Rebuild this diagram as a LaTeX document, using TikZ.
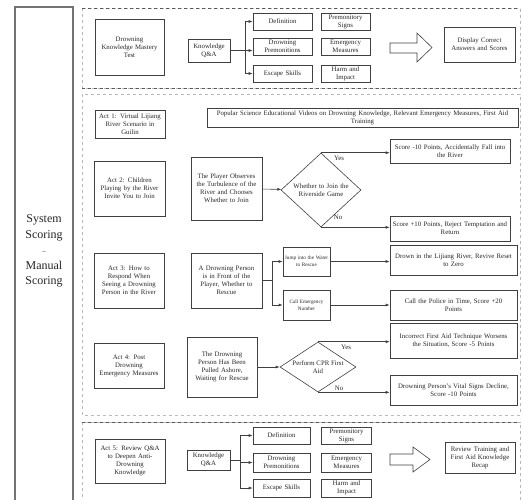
\documentclass[tikz,border=0pt]{standalone}
\usepackage{fontspec}
\setmainfont{Liberation Serif}
\usetikzlibrary{shapes.geometric,arrows.meta}
\begin{document}
\begin{tikzpicture}[x=1pt,y=-1pt,
 box/.style={draw=black!75, line width=0.6pt, align=center, inner xsep=1pt, inner ysep=0.5pt, font=\fontsize{6.8}{8}\selectfont, text=black!85},
 smallbox/.style={box, font=\fontsize{5.2}{7}\selectfont},
 dia/.style={draw=black!75, line width=0.6pt, diamond, align=center, inner sep=0.5pt, font=\fontsize{6.8}{8}\selectfont, text=black!85},
 conn/.style={draw=black!75, line width=0.6pt},
 arr/.style={conn, -{Latex[length=4pt,width=3pt]}},
 lbl/.style={font=\fontsize{6.8}{8}\selectfont, text=black!85, inner sep=1pt},
 sect/.style={draw=black!28, dashed, line width=0.5pt},
 sepl/.style={draw=black!65, dashed, line width=0.6pt},
 hollow/.style={draw=black!75, line width=0.6pt, fill=white}]

\useasboundingbox (0,0) rectangle (523,499);

% left scoring box
\draw[draw=black!55, line width=1.2pt] (15,7) rectangle (73,506);
\node[font=\fontsize{12}{15.5}\selectfont, text=black!85, align=center] (score) at (44,251)
  {System\\Scoring\\{\fontsize{7}{8}\selectfont –}\\Manual\\Scoring};

% sections
\draw[sect] (82,8) rectangle (520,88);
\draw[sect] (82,94) rectangle (520,415);
\draw[sect] (82,422) rectangle (520,506);
\draw[sepl] (82,8) -- (520,8);
\draw[sepl] (82,88) -- (520,88);
\draw[sepl] (82,422) -- (520,422);

% ---------- section 1 ----------
\node[box, minimum width=69pt, minimum height=56pt, text width=66pt] (mt) at (129.5,47) {Drowning\\Knowledge Mastery\\Test};
\node[box, minimum width=42pt, minimum height=23pt, text width=40pt] (qa1) at (209,50.5) {Knowledge\\Q\&A};
\node[box, minimum width=59pt, minimum height=17pt, text width=57pt] (def1) at (282.5,21.5) {Definition};
\node[box, minimum width=59pt, minimum height=17pt, text width=57pt] (pre1) at (282.5,46.5) {Drowning\\Premonitions};
\node[box, minimum width=59pt, minimum height=17pt, text width=57pt] (esc1) at (282.5,73.5) {Escape Skills};
\node[box, minimum width=49pt, minimum height=17pt, text width=47pt] (sig1) at (345.5,21.5) {Premonitory\\Signs};
\node[box, minimum width=49pt, minimum height=17pt, text width=47pt] (em1) at (345.5,46.5) {Emergency\\Measures};
\node[box, minimum width=49pt, minimum height=17pt, text width=47pt] (harm1) at (345.5,73.5) {Harm and\\Impact};
\draw[hollow] (390,43) -- (417,43) -- (417,33) -- (432,47.5) -- (417,62) -- (417,53) -- (390,53) -- cycle;
\node[box, minimum width=71pt, minimum height=35pt, text width=69pt] (disp1) at (479.5,44.5) {Display Correct\\Answers and Scores};
\coordinate (b1) at (245,50.5);
\draw[conn] (qa1) -- (b1);
\draw[arr] (b1) |- (def1);
\draw[arr] (b1) -- (pre1.west |- b1);
\draw[arr] (b1) |- (esc1);

% ---------- section 2 ----------
\node[box, minimum width=70pt, minimum height=28pt, text width=68pt] (act1) at (130,124) {Act 1: Virtual Lijiang\\River Scenario in\\Guilin};
\node[box, minimum width=311pt, minimum height=19pt, text width=309pt] (pop) at (362.5,117.5) {Popular Science Educational Videos on Drowning Knowledge, Relevant Emergency Measures, First Aid\\Training};

\node[box, minimum width=71pt, minimum height=55pt, text width=69pt] (act2) at (129.5,188.5) {Act 2: Children\\Playing by the River\\Invite You to Join};
\node[box, minimum width=71pt, minimum height=63pt, text width=69pt] (obs) at (226.5,188.5) {The Player Observes\\the Turbulence of the\\River and Chooses\\Whether to Join};
\node[dia, aspect=1.1, minimum width=80pt, minimum height=74pt, text width=58pt] (d1) at (321,190) {Whether to Join the\\Riverside Game};
\node[box, minimum width=120pt, minimum height=24pt, text width=118pt] (yes1) at (450,151) {Score -10 Points, Accidentally Fall into\\the River};
\node[box, minimum width=120pt, minimum height=25pt, text width=118pt] (no1) at (450,228.5) {Score +10 Points, Reject Temptation and\\Return};
\draw[arr] (obs) -- (d1);
\draw[arr] (d1.north) -- (d1.north -| yes1.west);
\draw[arr] (d1.south) -- (d1.south -| no1.west);
\node[lbl] (yes1l) at (339,158) {Yes};
\node[lbl] (no1l) at (338,217) {No};

\node[box, minimum width=70pt, minimum height=55pt, text width=68pt] (act3) at (129,280.5) {Act 3: How to\\Respond When\\Seeing a Drowning\\Person in the River};
\node[box, minimum width=71pt, minimum height=55pt, text width=69pt] (drp) at (226.5,280.5) {A Drowning Person\\is in Front of the\\Player, Whether to\\Rescue};
\node[smallbox, minimum width=47pt, minimum height=29pt, text width=45pt] (jump) at (306.5,261.5) {Jump into the Water\\to Rescue};
\node[smallbox, minimum width=47pt, minimum height=30pt, text width=45pt] (call) at (306.5,305) {Call Emergency\\Number};
\node[box, minimum width=127pt, minimum height=30pt, text width=125pt] (drown) at (453.5,260) {Drown in the Lijiang River, Revive Reset\\to Zero};
\node[box, minimum width=127pt, minimum height=30pt, text width=125pt] (police) at (453.5,305) {Call the Police in Time, Score +20\\Points};
\coordinate (b2) at (272,280.5);
\draw[conn] (drp) -- (b2);
\draw[arr] (b2) |- (jump);
\draw[arr] (b2) |- (call);
\draw[arr] (jump.east) -- (jump.east -| drown.west);
\draw[arr] (call) -- (police);

\node[box, minimum width=70pt, minimum height=45pt, text width=68pt] (act4) at (129,365.5) {Act 4: Post\\Drowning\\Emergency Measures};
\node[box, minimum width=70pt, minimum height=60pt, text width=68pt] (pulled) at (222,367) {The Drowning\\Person Has Been\\Pulled Ashore,\\Waiting for Rescue};
\node[dia, minimum width=76pt, minimum height=50pt, inner sep=0pt,
      label={[lbl, align=center]center:Perform CPR First\\Aid}] (d2) at (318,367) {};
\node[box, minimum width=127pt, minimum height=35pt, text width=125pt] (wrong) at (453.5,340.5) {Incorrect First Aid Technique Worsens\\the Situation, Score -5 Points};
\node[box, minimum width=127pt, minimum height=30pt, text width=125pt] (decline) at (453.5,390) {Drowning Person's Vital Signs Decline,\\Score -10 Points};
\draw[arr] (pulled) -- (d2);
\draw[arr] (d2.north) -- (d2.north -| wrong.west);
\draw[arr] (d2.south) -- (d2.south -| decline.west);
\node[lbl] (yes2l) at (346,347) {Yes};
\node[lbl] (no2l) at (339,388) {No};

% ---------- section 3 ----------
\node[box, minimum width=70pt, minimum height=44pt, text width=68pt] (act5) at (130,461) {Act 5: Review Q\&A\\to Deepen Anti-\\Drowning\\Knowledge};
\node[box, minimum width=43pt, minimum height=20pt, text width=41pt] (qa2) at (208.5,460) {Knowledge\\Q\&A};
\node[box, minimum width=57pt, minimum height=17pt, text width=55pt] (def2) at (281.5,435.5) {Definition};
\node[box, minimum width=57pt, minimum height=19pt, text width=55pt] (pre2) at (281.5,462.5) {Drowning\\Premonitions};
\node[box, minimum width=57pt, minimum height=18pt, text width=55pt] (esc2) at (281.5,488) {Escape Skills};
\node[box, minimum width=50pt, minimum height=17pt, text width=48pt] (sig2) at (346.5,435.5) {Premonitory\\Signs};
\node[box, minimum width=50pt, minimum height=19pt, text width=48pt] (em2) at (346.5,462.5) {Emergency\\Measures};
\node[box, minimum width=50pt, minimum height=18pt, text width=48pt] (harm2) at (346.5,488) {Harm and\\Impact};
\draw[hollow] (390,454) -- (413,454) -- (413,447) -- (430,459.5) -- (413,472) -- (413,465) -- (390,465) -- cycle;
\node[box, minimum width=70pt, minimum height=31pt, text width=68pt] (review) at (480,457.5) {Review Training and\\First Aid Knowledge\\Recap};
\coordinate (b3) at (240,460);
\draw[conn] (qa2) -- (b3);
\draw[arr] (b3) |- (def2);
\draw[arr] (b3) |- (pre2);
\draw[arr] (b3) |- (esc2);

\end{tikzpicture}
\end{document}
